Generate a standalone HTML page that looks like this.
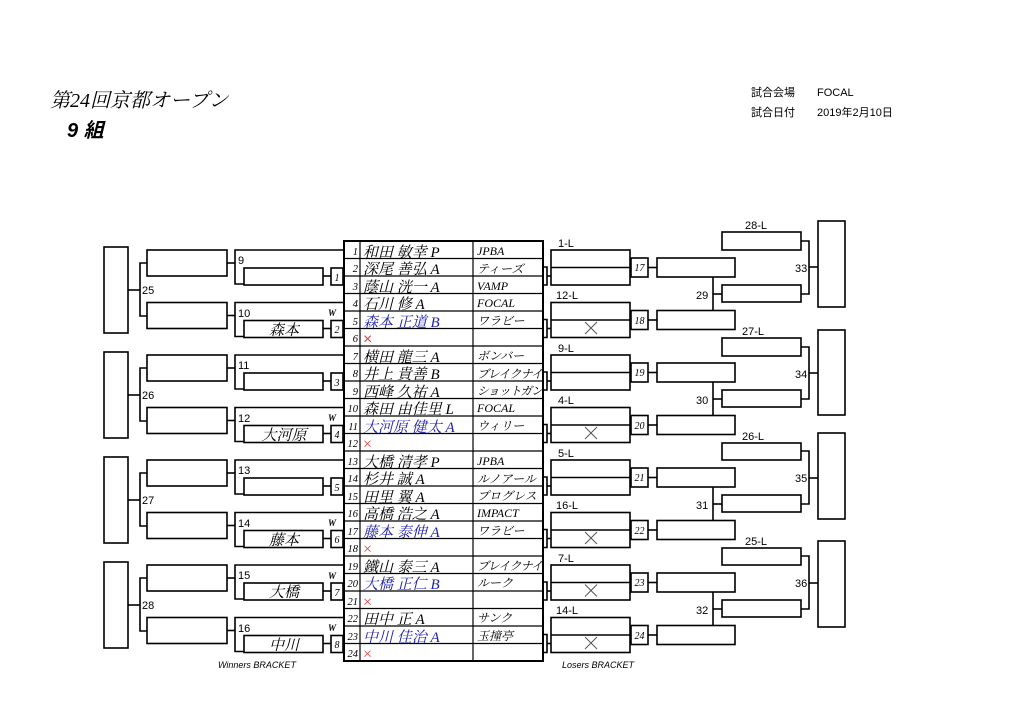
<!DOCTYPE html>
<html><head><meta charset="utf-8"><style>
html,body{margin:0;padding:0;background:#fff;}
svg{display:block;}
.s{font-family:"Liberation Sans","Noto Sans CJK JP",sans-serif;}
.r{font-family:"Liberation Serif","Noto Serif CJK SC",serif;font-style:italic;}
</style></head><body>
<svg width="1024" height="724" viewBox="0 0 1024 724" xmlns="http://www.w3.org/2000/svg">
<rect width="1024" height="724" fill="#fff"/>
<text class="r" x="50" y="107" font-size="20" fill="#000">第24回京都オープン</text>
<text class="s" x="67" y="137" font-size="20" font-style="italic" font-weight="bold" fill="#000">9 組</text>
<text class="s" x="751" y="96" font-size="11">試合会場</text>
<text class="s" x="817" y="96" font-size="11">FOCAL</text>
<text class="s" x="751" y="116" font-size="11">試合日付</text>
<text class="s" x="817" y="116" font-size="11">2019年2月10日</text>

<defs>
<g id="wg" fill="none" stroke="#000" stroke-width="1.6">
 <rect x="104" y="247" width="24" height="86"/>
 <polyline points="128,290 140,290"/>
 <polyline points="147,263 140,263 140,316 147,316"/>
 <rect x="147" y="250" width="80" height="26"/>
 <rect x="147" y="302.5" width="80" height="26"/>
</g>
<g id="wm" fill="none" stroke="#000" stroke-width="1.6">
 <line x1="227" y1="263" x2="235" y2="263"/>
 <polyline points="345,250 235,250 235,284 244,284"/>
 <rect x="244" y="268" width="79" height="17"/>
 <line x1="323" y1="276" x2="331" y2="276"/>
 <rect x="331" y="268" width="12" height="17"/>
</g>
<g id="lm" fill="none" stroke="#000" stroke-width="1.6">
 <polyline points="543,267 547,267 547,285 543,285"/>
 <line x1="547" y1="276" x2="551" y2="276"/>
 <rect x="551" y="250" width="79" height="35"/>
 <line x1="551" y1="267.5" x2="630" y2="267.5"/>
 <rect x="631" y="258" width="17" height="19"/>
 <line x1="648" y1="267.5" x2="657" y2="267.5"/>
 <rect x="657" y="258" width="78" height="19"/>
</g>
<g id="lx" fill="none" stroke="#000" stroke-width="1.6">
 <line x1="713" y1="277" x2="713" y2="311"/>
 <line x1="713" y1="294" x2="722" y2="294"/>
 <rect x="722" y="285" width="79" height="17"/>
</g>
<g id="xx" stroke="#555" stroke-width="1" fill="none">
 <line x1="585" y1="322" x2="597" y2="334"/><line x1="597" y1="322" x2="585" y2="334"/>
</g>
</defs>

<!-- Winners bracket -->
<g>
<use href="#wg"/><use href="#wm"/><use href="#wm" transform="translate(0,52.5)"/>
<use href="#wg" transform="translate(0,105)"/><use href="#wm" transform="translate(0,105)"/><use href="#wm" transform="translate(0,157.5)"/>
<use href="#wg" transform="translate(0,210)"/><use href="#wm" transform="translate(0,210)"/><use href="#wm" transform="translate(0,262.5)"/>
<use href="#wg" transform="translate(0,315)"/><use href="#wm" transform="translate(0,315)"/><use href="#wm" transform="translate(0,367.5)"/>
</g>
<g class="s" font-size="11">
<text x="142" y="294">25</text><text x="142" y="399">26</text><text x="142" y="504">27</text><text x="142" y="609">28</text>
<text x="238" y="264">9</text><text x="238" y="317">10</text>
<text x="238" y="369">11</text><text x="238" y="422">12</text>
<text x="238" y="474">13</text><text x="238" y="527">14</text>
<text x="238" y="579">15</text><text x="238" y="632">16</text>
</g>
<g class="r" font-size="10" text-anchor="middle">
<text x="337" y="281">1</text><text x="337" y="333">2</text>
<text x="337" y="386">3</text><text x="337" y="438">4</text>
<text x="337" y="491">5</text><text x="337" y="543">6</text>
<text x="337" y="596">7</text><text x="337" y="648">8</text>
</g>
<g class="r" font-size="9" font-weight="bold">
<text x="328" y="316">W</text><text x="328" y="421">W</text><text x="328" y="526">W</text><text x="328" y="579">W</text><text x="328" y="631">W</text>
</g>
<g class="r" font-size="15" text-anchor="middle">
<text x="284" y="335">森本</text><text x="284" y="440">大河原</text>
<text x="284" y="545">藤本</text><text x="284" y="597">大橋</text><text x="284" y="650">中川</text>
</g>

<!-- Table -->
<g fill="none" stroke="#000">
<rect x="344" y="241" width="199" height="420" stroke-width="2"/>
<line x1="360" y1="241" x2="360" y2="661" stroke-width="1.2"/>
<line x1="473" y1="241" x2="473" y2="661" stroke-width="1.2"/>
<path stroke-width="1.2" d="M344 258.5H543M344 276H543M344 293.5H543M344 311H543M344 328.5H543M344 346H543M344 363.5H543M344 381H543M344 398.5H543M344 416H543M344 433.5H543M344 451H543M344 468.5H543M344 486H543M344 503.5H543M344 521H543M344 538.5H543M344 556H543M344 573.5H543M344 591H543M344 608.5H543M344 626H543M344 643.5H543"/>
</g>
<g class="r" font-size="10.5" text-anchor="end">
<text x="358" y="255">1</text><text x="358" y="272">2</text><text x="358" y="290">3</text><text x="358" y="307">4</text><text x="358" y="325">5</text><text x="358" y="342">6</text>
<text x="358" y="360">7</text><text x="358" y="377">8</text><text x="358" y="395">9</text><text x="358" y="412">10</text><text x="358" y="430">11</text><text x="358" y="447">12</text>
<text x="358" y="465">13</text><text x="358" y="482">14</text><text x="358" y="500">15</text><text x="358" y="517">16</text><text x="358" y="535">17</text><text x="358" y="552">18</text>
<text x="358" y="570">19</text><text x="358" y="587">20</text><text x="358" y="605">21</text><text x="358" y="622">22</text><text x="358" y="640">23</text><text x="358" y="657">24</text>
</g>
<g class="r" font-size="15">
<text x="363" y="257">和田 敏幸 P</text>
<text x="363" y="274">深尾 善弘 A</text>
<text x="363" y="292">蔭山 洸一 A</text>
<text x="363" y="309">石川 修 A</text>
<text x="363" y="327" fill="#2222aa">森本 正道 B</text>
<text x="363" y="344" fill="#dd4444" font-size="16" font-style="normal" class="s">×</text>
<text x="363" y="362">横田 龍三 A</text>
<text x="363" y="379">井上 貴善 B</text>
<text x="363" y="397">西峰 久祐 A</text>
<text x="363" y="414">森田 由佳里 L</text>
<text x="363" y="432" fill="#2222aa">大河原 健太 A</text>
<text x="363" y="449" fill="#dd4444" font-size="16" font-style="normal">×</text>
<text x="363" y="467">大橋 清孝 P</text>
<text x="363" y="484">杉井 誠 A</text>
<text x="363" y="502">田里 翼 A</text>
<text x="363" y="519">高橋 浩之 A</text>
<text x="363" y="537" fill="#2222aa">藤本 泰伸 A</text>
<text x="363" y="554" fill="#dd4444" font-size="16" font-style="normal">×</text>
<text x="363" y="572">鐵山 泰三 A</text>
<text x="363" y="589" fill="#2222aa">大橋 正仁 B</text>
<text x="363" y="607" fill="#dd4444" font-size="16" font-style="normal">×</text>
<text x="363" y="624">田中 正 A</text>
<text x="363" y="642" fill="#2222aa">中川 佳治 A</text>
<text x="363" y="659" fill="#dd4444" font-size="16" font-style="normal">×</text>
</g>
<g class="r" font-size="12">
<text x="477" y="255">JPBA</text>
<text x="477" y="273">ティーズ</text>
<text x="477" y="290">VAMP</text>
<text x="477" y="307">FOCAL</text>
<text x="477" y="325">ワラビー</text>
<text x="477" y="360">ボンバー</text>
<text x="477" y="378" textLength="66">ブレイクナイ</text>
<text x="477" y="395" textLength="66">ショットガン</text>
<text x="477" y="412">FOCAL</text>
<text x="477" y="430">ウィリー</text>
<text x="477" y="465">JPBA</text>
<text x="477" y="483">ルノアール</text>
<text x="477" y="500">プログレス</text>
<text x="477" y="517">IMPACT</text>
<text x="477" y="535">ワラビー</text>
<text x="477" y="570" textLength="66">ブレイクナイ</text>
<text x="477" y="587">ルーク</text>
<text x="477" y="622">サンク</text>
<text x="477" y="640">玉撞亭</text>
</g>

<!-- Losers bracket -->
<g>
<use href="#lm"/><use href="#lm" transform="translate(0,52.5)"/><use href="#lx"/>
<use href="#lm" transform="translate(0,105)"/><use href="#lm" transform="translate(0,157.5)"/><use href="#lx" transform="translate(0,105)"/>
<use href="#lm" transform="translate(0,210)"/><use href="#lm" transform="translate(0,262.5)"/><use href="#lx" transform="translate(0,210)"/>
<use href="#lm" transform="translate(0,315)"/><use href="#lm" transform="translate(0,367.5)"/><use href="#lx" transform="translate(0,315)"/>
</g>
<use href="#xx"/><use href="#xx" transform="translate(0,105)"/><use href="#xx" transform="translate(0,210)"/><use href="#xx" transform="translate(0,262.5)"/><use href="#xx" transform="translate(0,315)"/>
<g fill="none" stroke="#000" stroke-width="1.6">
<rect x="722" y="232" width="79" height="18"/><polyline points="801,241 809,241 809,294 801,294"/><line x1="809" y1="267" x2="818" y2="267"/><rect x="818" y="221" width="27" height="86"/>
<rect x="722" y="338" width="79" height="18"/><polyline points="801,347 809,347 809,399 801,399"/><line x1="809" y1="373" x2="818" y2="373"/><rect x="818" y="330" width="27" height="85"/>
<rect x="722" y="443" width="79" height="17"/><polyline points="801,451 809,451 809,504 801,504"/><line x1="809" y1="478" x2="818" y2="478"/><rect x="818" y="433" width="27" height="86"/>
<rect x="722" y="548" width="79" height="17"/><polyline points="801,556 809,556 809,609 801,609"/><line x1="809" y1="583" x2="818" y2="583"/><rect x="818" y="541" width="27" height="86"/>
</g>
<g class="s" font-size="11">
<text x="558" y="247">1-L</text><text x="556" y="299">12-L</text>
<text x="558" y="352">9-L</text><text x="558" y="404">4-L</text>
<text x="558" y="457">5-L</text><text x="556" y="509">16-L</text>
<text x="558" y="562">7-L</text><text x="556" y="614">14-L</text>
<text x="745" y="229">28-L</text><text x="742" y="335">27-L</text>
<text x="742" y="440">26-L</text><text x="745" y="545">25-L</text>
<text x="696" y="299">29</text><text x="696" y="404">30</text><text x="696" y="509">31</text><text x="696" y="614">32</text>
<text x="795" y="272">33</text><text x="795" y="378">34</text><text x="795" y="482">35</text><text x="795" y="587">36</text>
</g>
<g class="r" font-size="10" text-anchor="middle">
<text x="639.5" y="271">17</text><text x="639.5" y="324">18</text>
<text x="639.5" y="376">19</text><text x="639.5" y="429">20</text>
<text x="639.5" y="481">21</text><text x="639.5" y="534">22</text>
<text x="639.5" y="586">23</text><text x="639.5" y="639">24</text>
</g>

<text class="s" x="218" y="668" font-size="9" font-style="italic">Winners BRACKET</text>
<text class="s" x="562" y="668" font-size="9" font-style="italic">Losers BRACKET</text>
</svg>
</body></html>
